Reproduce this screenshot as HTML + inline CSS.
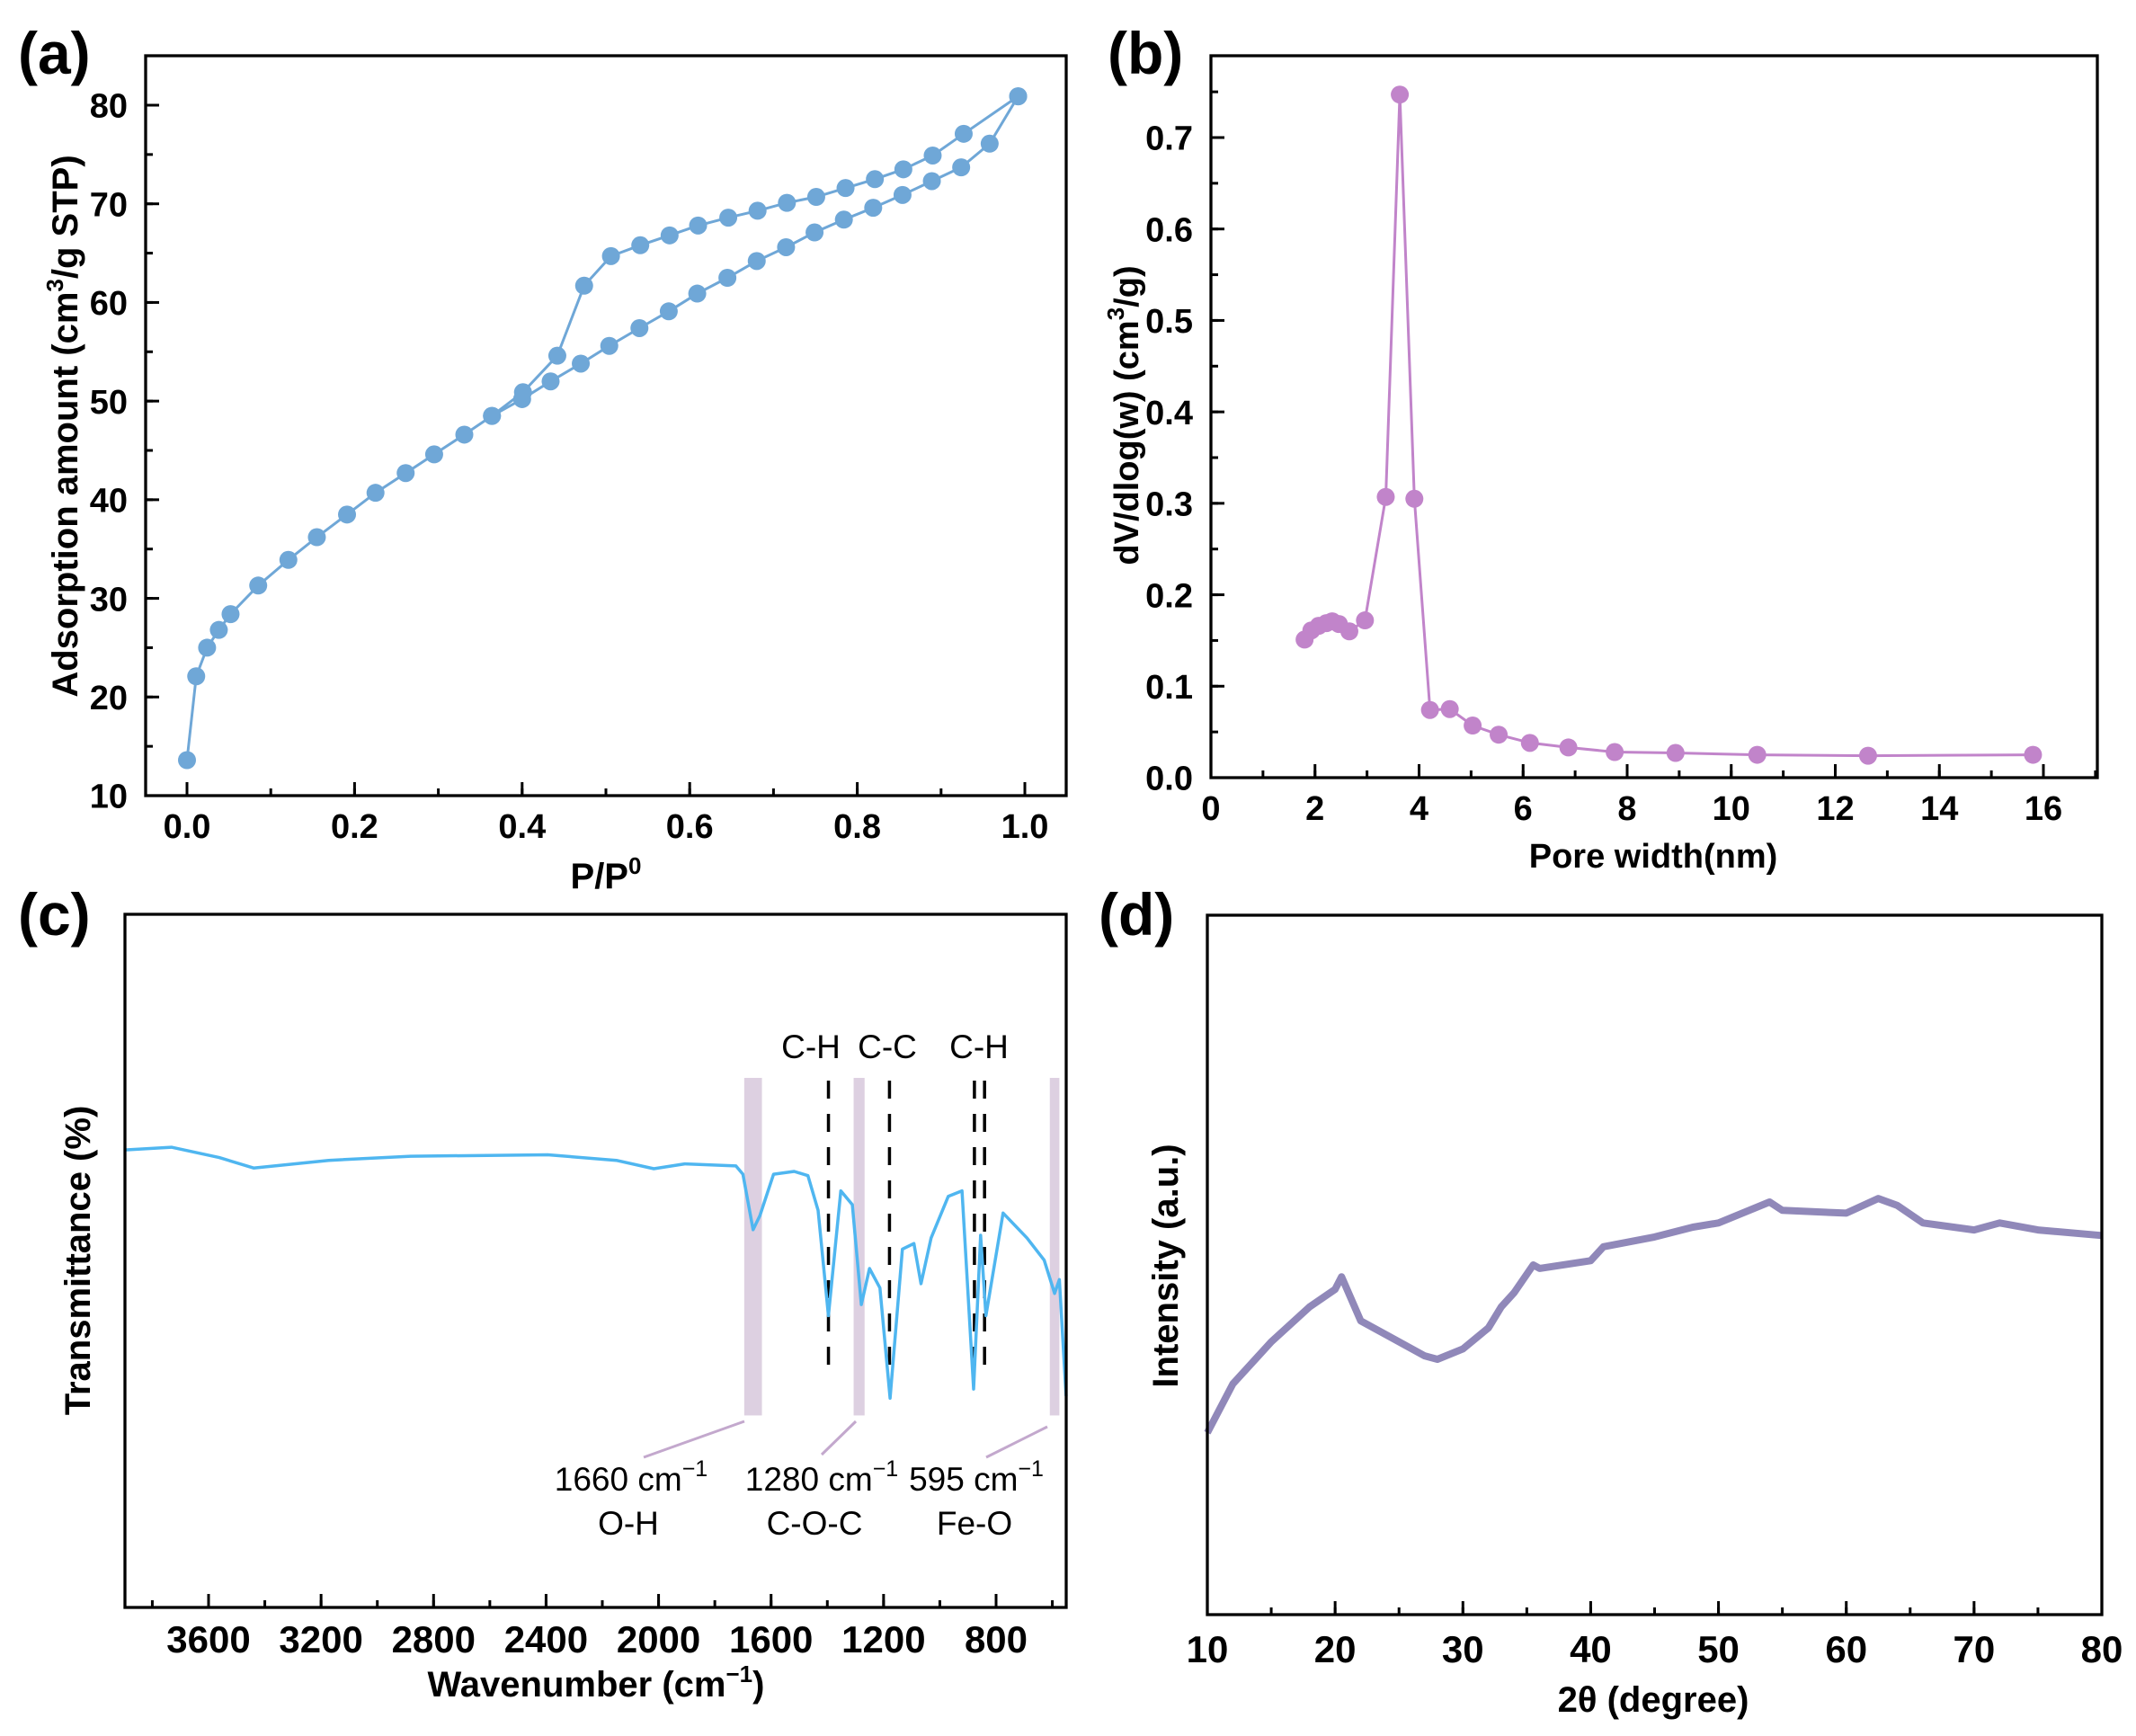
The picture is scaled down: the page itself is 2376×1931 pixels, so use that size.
<!DOCTYPE html>
<html><head><meta charset="utf-8">
<style>
html,body{margin:0;padding:0;background:#fff;}
svg{display:block;font-family:"Liberation Sans",Arial,sans-serif;}
.tk{font-weight:bold;fill:#000;}
.tt{font-weight:bold;fill:#000;}
.an{fill:#000;font-size:37px;}
</style></head>
<body>
<svg id="fig" width="2376" height="1931" viewBox="0 0 2376 1931" xmlns="http://www.w3.org/2000/svg">
  <g id="pa"></g>
  <g id="pb"></g>
  <g id="pc"></g>
  <g id="pd"></g>
</svg>
<script>
// ---------- Panel (a) data ----------
const adsP = [0.0,0.011,0.024,0.038,0.052,0.085,0.121,0.155,0.191,0.225,0.261,0.295,0.331,0.364,0.400,0.434,0.470,0.504,0.540,0.575,0.609,0.645,0.680,0.715,0.749,0.784,0.819,0.854,0.889,0.924,0.958,0.992];
const adsV = [13.6,22.1,25.0,26.8,28.4,31.3,33.9,36.2,38.5,40.7,42.7,44.6,46.6,48.5,50.2,52.0,53.8,55.6,57.4,59.1,60.9,62.5,64.2,65.6,67.1,68.4,69.6,70.9,72.3,73.7,76.1,80.9];
const desP = [0.992,0.927,0.890,0.855,0.821,0.786,0.751,0.716,0.681,0.646,0.610,0.576,0.541,0.506,0.474,0.442,0.401,0.364];
const desV = [80.9,77.1,74.9,73.5,72.5,71.6,70.7,70.1,69.3,68.6,67.8,66.8,65.8,64.7,61.7,54.6,50.9,48.5];
const aXTicks = ["0.0","0.2","0.4","0.6","0.8","1.0"];
const aYTicks = ["10","20","30","40","50","60","70","80"];
// ---------- Panel (b) data ----------
const poreW = [1.80,1.93,2.07,2.22,2.33,2.46,2.66,2.96,3.36,3.63,3.91,4.21,4.59,5.03,5.53,6.13,6.87,7.76,8.93,10.50,12.63,15.80];
const poreDV = [0.151,0.161,0.166,0.169,0.171,0.168,0.160,0.172,0.307,0.747,0.305,0.074,0.075,0.057,0.047,0.038,0.033,0.028,0.027,0.025,0.024,0.025];
const bXTicks = ["0","2","4","6","8","10","12","14","16"];
const bYTicks = ["0.0","0.1","0.2","0.3","0.4","0.5","0.6","0.7"];
// ---------- Panel (c) data ----------
const ftWn = [3898,3732,3562,3440,3173,2881,2394,2150,2017,1907,1725,1700,1664,1640,1591,1518,1469,1433,1396,1352,1311,1279,1250,1213,1177,1133,1092,1067,1031,970,921,880,855,836,775,690,629,592,575,551];
const ftT = [66,66.4,64.9,63.4,64.5,65.1,65.3,64.5,63.3,64,63.7,62.5,54.5,56.5,62.5,62.9,62.3,57.3,42.1,60.1,58.1,43.7,48.9,46.1,30.2,51.7,52.5,46.7,53.3,59.3,60.1,31.5,53.7,42.1,56.9,53.3,50.1,45.3,47.3,30.5];
const cXTicks = ["3600","3200","2800","2400","2000","1600","1200","800"];
const bandCenters = [1664,1287,592];
const bandWidths = [63,39,34];
const dashWn = [1396,1179,877,841];
// ---------- Panel (d) data ----------
const xrdT = [10,12,15,18,20,20.5,22,24,27,28,30,32,33,34,35.5,36,40,41,45,48,50,54,55,60,62.5,64,66,70,72,75,80];
const xrdI = [26,33,39,44,46.5,48.3,42,40,37,36.5,38,41,44,46,50,49.5,50.6,52.6,54,55.4,56,59,57.8,57.4,59.5,58.5,56,55,56,55,54.2];
const dXTicks = ["10","20","30","40","50","60","70","80"];

const NS="http://www.w3.org/2000/svg";
function mk(parent,tag,attrs,text){const e=document.createElementNS(NS,tag);for(const k in attrs)e.setAttribute(k,attrs[k]);if(text!==undefined)e.textContent=text;parent.appendChild(e);return e;}
function lin(d0,d1,r0,r1){return v=>r0+(v-d0)*(r1-r0)/(d1-d0);}

function frame(g,L,T,R,B){
  const f=mk(g,'rect',{x:L,y:T,width:R-L,height:B-T,fill:'none',stroke:'#000','stroke-width':3.3});
  
  
}
function panelLabel(g,txt,x,y){
  const t=mk(g,'text',{x:x,y:y,'font-size':66,'font-weight':'bold'},txt);
  
  
}
function xTicks(g,sx,B,labels,minorStep,fs,baseline,minV,maxV){
  labels.forEach(l=>{const v=parseFloat(l);const x=sx(v);
    const tk=mk(g,'line',{x1:x,x2:x,y1:B,y2:B-15,stroke:'#000','stroke-width':3});
    
    
    const t=mk(g,'text',{x:x,y:baseline,'text-anchor':'middle','font-size':fs,class:'tk'},l);
    
    
  });
  const lo=Math.min(minV,maxV),hi=Math.max(minV,maxV);
  for(let v=Math.ceil(lo/minorStep-1e-9)*minorStep; v<=hi+1e-9; v+=minorStep){
    const x=sx(v);
    const m=mk(g,'line',{x1:x,x2:x,y1:B,y2:B-8,stroke:'#000','stroke-width':3});
    
    
  }
}
function yTicks(g,sy,L,labels,minorStep,fs,minV,maxV){
  labels.forEach(l=>{const v=parseFloat(l);const y=sy(v);
    const tk=mk(g,'line',{x1:L,x2:L+15,y1:y,y2:y,stroke:'#000','stroke-width':3});
    
    
    const t=mk(g,'text',{x:L-20,y:y+fs*0.36,'text-anchor':'end','font-size':fs,class:'tk'},l);
    
    
  });
  for(let v=minV; v<=maxV+1e-9; v+=minorStep){
    const y=sy(v);
    const m=mk(g,'line',{x1:L,x2:L+8,y1:y,y2:y,stroke:'#000','stroke-width':3});
    
    
  }
}
function yTitle(g,x,y,html,fs){
  const t=mk(g,'text',{x:0,y:0,'text-anchor':'middle','font-size':fs,class:'tt',transform:`translate(${x},${y}) rotate(-90)`});
  t.innerHTML=html;
  
  
}
function xTitle(g,x,y,html,fs){
  const t=mk(g,'text',{x:x,y:y,'text-anchor':'middle','font-size':fs,class:'tt'});
  t.innerHTML=html;
  
  
}
function pathD(xs,ys,sx,sy){return xs.map((v,i)=>(i?'L':'M')+sx(v).toFixed(1)+','+sy(ys[i]).toFixed(1)).join('');}

// ---------- (a) ----------
(function(){
  const g=document.getElementById('pa');
  const L=162,T=62,R=1186,B=885;
  const sx=lin(0,1,208,1140), sy=lin(10,80,885,117);
  const p1=mk(g,'path',{d:pathD(adsP,adsV,sx,sy),fill:'none',stroke:'#6fa7d7','stroke-width':3});
  
  
  const p2=mk(g,'path',{d:pathD(desP,desV,sx,sy),fill:'none',stroke:'#6fa7d7','stroke-width':3});
  
  
  adsP.forEach((p,i)=>{const c=mk(g,'circle',{cx:sx(p),cy:sy(adsV[i]),r:10,fill:'#6fa7d7'});
    
    });
  desP.forEach((p,i)=>{const c=mk(g,'circle',{cx:sx(p),cy:sy(desV[i]),r:10,fill:'#6fa7d7'});
    
    });
  frame(g,L,T,R,B);
  xTicks(g,sx,B,aXTicks,0.1,38,932,-0.04,1.04);
  yTicks(g,sy,L,aYTicks,5,38,10,84);
  yTitle(g,86,474,'Adsorption amount (cm<tspan font-size="26" dy="-16">3</tspan><tspan dy="16">/g STP)</tspan>',40);
  xTitle(g,674,988,'P/P<tspan font-size="26" dy="-16">0</tspan>',40);
  panelLabel(g,'(a)',20,82);
})();

// ---------- (b) ----------
(function(){
  const g=document.getElementById('pb');
  const L=1347,T=62,R=2333,B=865;
  const sx=lin(0,16,1347,2273), sy=lin(0,0.7,865,153);
  const p=mk(g,'path',{d:pathD(poreW,poreDV,sx,sy),fill:'none',stroke:'#c184ca','stroke-width':3});
  
  
  poreW.forEach((w,i)=>{const c=mk(g,'circle',{cx:sx(w),cy:sy(poreDV[i]),r:10,fill:'#c184ca'});
    
    });
  frame(g,L,T,R,B);
  xTicks(g,sx,B,bXTicks,1,38,912,0,17);
  yTicks(g,sy,L,bYTicks,0.05,38,0,0.78);
  yTitle(g,1266,462,'dV/dlog(w) (cm<tspan font-size="26" dy="-16">3</tspan><tspan dy="16">/g)</tspan>',38);
  xTitle(g,1839,965,'Pore width(nm)',38);
  panelLabel(g,'(b)',1232,82);
})();

// ---------- (c) ----------
(function(){
  const g=document.getElementById('pc');
  const L=139,T=1017,R=1186,B=1788;
  const sx=lin(3600,800,232,1108), sy=lin(0,100,1788,1017);
  bandCenters.forEach((c,i)=>{const x1=sx(c+bandWidths[i]/2),x2=sx(c-bandWidths[i]/2);
    const r=mk(g,'rect',{x:x1,y:sy(76.4),width:x2-x1,height:sy(27.7)-sy(76.4),fill:'#ddd0e1'});
    
    });
  dashWn.forEach(w=>{const x=sx(w);
    const d=mk(g,'line',{x1:x,x2:x,y1:sy(76),y2:sy(34),stroke:'#000','stroke-width':3.5,'stroke-dasharray':'20,17'});
    
    });
  const p=mk(g,'path',{d:pathD(ftWn,ftT,sx,sy),fill:'none',stroke:'#4fb6f0','stroke-width':3.5,'stroke-linejoin':'round'});
  
  
  [[828,1581,716,1621],[952,1581,914,1618],[1165,1587,1097,1621]].forEach(s=>{
    const l=mk(g,'line',{x1:s[0],y1:s[1],x2:s[2],y2:s[3],stroke:'#c3a8cd','stroke-width':3});
    
    });
  const ann=[['C-H',902,1177],['C-C',987,1177],['C-H',1089,1177],
    ['1660 cm<tspan font-size="25" dy="-16">−1</tspan>',702,1658],['O-H',699,1707],
    ['1280 cm<tspan font-size="25" dy="-16">−1</tspan>',914,1658],['C-O-C',906,1707],
    ['595 cm<tspan font-size="25" dy="-16">−1</tspan>',1086,1658],['Fe-O',1084,1707]];
  ann.forEach(a=>{const t=mk(g,'text',{x:a[1],y:a[2],'text-anchor':'middle',class:'an'});t.innerHTML=a[0];
    
    });
  frame(g,L,T,R,B);
  xTicks(g,sx,B,cXTicks,200,42,1838,3890,560);
  yTitle(g,100,1402,'Transmittance (%)',40);
  xTitle(g,663,1887,'Wavenumber (cm<tspan font-size="26" dy="-16">−1</tspan><tspan dy="16">)</tspan>',40);
  panelLabel(g,'(c)',20,1040);
})();

// ---------- (d) ----------
(function(){
  const g=document.getElementById('pd');
  const L=1343,T=1018,R=2338,B=1796;
  const sx=lin(10,80,1343,2338), sy=lin(0,100,1796,1018);
  const p=mk(g,'path',{d:pathD(xrdT,xrdI,sx,sy),fill:'none',stroke:'#9088b9','stroke-width':8,'stroke-linejoin':'round'});
  
  
  frame(g,L,T,R,B);
  xTicks(g,sx,B,dXTicks,5,42,1849,10,80);
  yTitle(g,1310,1408,'Intensity (a.u.)',40);
  xTitle(g,1839,1904,'2θ (degree)',40);
  panelLabel(g,'(d)',1222,1040);
})();
</script>
</body></html>
